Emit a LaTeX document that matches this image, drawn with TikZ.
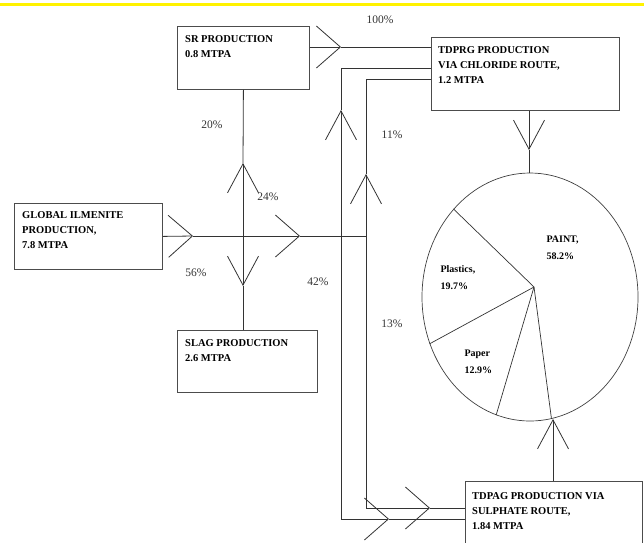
\documentclass[tikz,border=0pt]{standalone}
\usepackage{fontspec}
\setmainfont{Liberation Serif}
\usetikzlibrary{arrows.meta,shapes.geometric}

\begin{document}
\begin{tikzpicture}[x=1pt,y=-1pt]

\tikzset{box/.style = {draw=black!70,line width=0.8pt,anchor=north west,inner sep=0pt}}
\tikzset{boxtext/.style = {anchor=north west,align=left,inner xsep=8pt,inner ysep=9pt,
  font=\bfseries\fontsize{10.5}{15}\selectfont}}
\tikzset{pct/.style = {font=\fontsize{11.5}{13}\selectfont,text=black!80}}
\tikzset{slice/.style = {anchor=west,align=left,font=\bfseries\fontsize{10}{17}\selectfont}}
\tikzset{line/.style = {line width=0.8pt,black!80}}
\tikzset{hflow/.style = {line,-{Straight Barb[length=24pt,width=42pt]}}}
\tikzset{vflow/.style = {line,-{Straight Barb[length=29pt,width=31pt]}}}

\useasboundingbox (0,0) rectangle (644,542);
\clip (0,0) rectangle (644,542);
\draw[yellow,line width=3pt] (0,4) -- (644,4);

% boxes
\node[box,minimum width=132pt,minimum height=63pt] (SR) at (177,26) {};
\node[boxtext] (SRtext) at (SR.north west) {SR PRODUCTION\\0.8 MTPA};
\node[box,minimum width=188pt,minimum height=73pt] (TDPRG) at (431,37) {};
\node[boxtext,inner xsep=7pt] (TDPRGtext) at (TDPRG.north west) {TDPRG PRODUCTION\\VIA CHLORIDE ROUTE,\\1.2 MTPA};
\node[box,minimum width=148pt,minimum height=66pt] (Global) at (14,203) {};
\node[boxtext,inner ysep=8pt] (Globaltext) at (Global.north west) {GLOBAL ILMENITE\\PRODUCTION,\\7.8 MTPA};
\node[box,minimum width=140pt,minimum height=62pt] (Slag) at (177,330) {};
\node[boxtext] (Slagtext) at (Slag.north west) {SLAG PRODUCTION\\2.6 MTPA};
\node[box,minimum width=177pt,minimum height=80pt] (TDPAG) at (465,481) {};
\node[boxtext,inner xsep=7pt,inner ysep=11pt] (TDPAGtext) at (TDPAG.north west) {TDPAG PRODUCTION VIA\\SULPHATE ROUTE,\\1.84 MTPA};

% pie
\node[ellipse,draw=black!75,line width=0.7pt,minimum width=216pt,minimum height=248pt,inner sep=0pt] (pie) at (530,297) {};
\coordinate (pc) at (534,287);
\draw[line,line width=0.7pt] (pc) -- (pie.131);
\draw[line,line width=0.7pt] (pc) -- (pie.205);
\draw[line,line width=0.7pt] (pc) -- (pie.254);
\draw[line,line width=0.7pt] (pc) -- (pie.280);
\node[slice] (paint) at (543,248) {PAINT,\\58.2\%};
\node[slice] (plastics) at (437,278) {Plastics,\\19.7\%};
\node[slice] (paper) at (461,362) {Paper\\12.9\%};

% points on the lines
\coordinate (s1) at (341,47);
\coordinate (a1) at (193,236);
\coordinate (a2) at (300,236);
\coordinate (m1) at (243,236);
\coordinate (m2) at (366,236);
\coordinate (x1) at (341,236);
\coordinate (up1) at (243,163);
\coordinate (dn1) at (243,286);
\coordinate (o1) at (341,68);
\coordinate (o2) at (341,519);
\coordinate (o3) at (341,110);
\coordinate (o4) at (389,519);
\coordinate (i1) at (366,79);
\coordinate (i2) at (366,508);
\coordinate (i3) at (366,174);
\coordinate (i4) at (430,508);
\coordinate (p1) at (529,150);
\coordinate (q1) at (553,419);

% edges
\draw[hflow] (SR.east |- s1) -- (s1);
\draw[line] (s1) -- (s1 -| TDPRG.west);
\draw[hflow] (Global.east) -- (a1);
\draw[hflow] (a1) -- (a2);
\draw[line] (a2) -- (m2);
\draw[vflow] (m1) -- (up1);
\draw[line] (up1) -- (SR.south);
\draw[vflow] (m1) -- (dn1);
\draw[line] (dn1) -- (dn1 |- Slag.north);
\draw[vflow] (x1) -- (o3);
\draw[line] (o3) -- (o1) -- (o1 -| TDPRG.west);
\draw[line] (x1) -- (o2);
\draw[hflow] (o2) -- (o4);
\draw[line] (o4) -- (o4 -| TDPAG.west);
\draw[vflow] (m2) -- (i3);
\draw[line] (i3) -- (i1) -- (i1 -| TDPRG.west);
\draw[line] (m2) -- (i2);
\draw[hflow] (i2) -- (i4);
\draw[line] (i4) -- (i4 -| TDPAG.west);
\draw[vflow] (p1 |- TDPRG.south) -- (p1);
\draw[line] (p1) -- (p1 |- pie.north);
\draw[vflow] (q1 |- TDPAG.north) -- (q1);

% shares
\node[pct] (p100) at (380,20) {100\%};
\node[pct] (p20) at (212,125) {20\%};
\node[pct] (p24) at (268,197) {24\%};
\node[pct] (p56) at (196,273) {56\%};
\node[pct] (p42) at (318,282) {42\%};
\node[pct] (p11) at (392,135) {11\%};
\node[pct] (p13) at (392,324) {13\%};
\end{tikzpicture}
\end{document}
